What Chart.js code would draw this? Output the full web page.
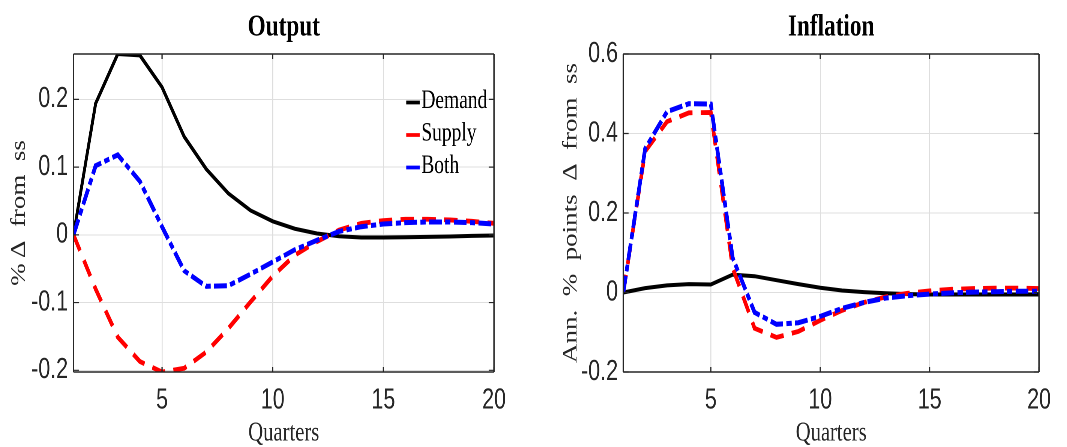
<!DOCTYPE html>
<html><head><meta charset="utf-8">
<script src="https://cdn.jsdelivr.net/npm/chart.js@4.4.0/dist/chart.umd.min.js"></script>
<style>
html,body{margin:0;padding:0;background:#fff;overflow:hidden}
#wrap{position:relative;width:1067px;height:447px;background:#fff}
.panel{position:absolute;top:0;height:447px;transform-origin:0 0;transform:scaleX(0.75)}
</style></head><body>
<div id="wrap">
<div class="panel" style="left:0;width:711px"><canvas id="c1" width="711" height="447"></canvas></div>
<div class="panel" style="left:533px;width:712px"><canvas id="c2" width="712" height="447"></canvas></div>
</div>
<script>
// ---------------- data ----------------
const quarters = [1,2,3,4,5,6,7,8,9,10,11,12,13,14,15,16,17,18,19,20];
const seriesNames = ['Demand','Supply','Both'];

const outputDemand = [0, 0.194, 0.267, 0.265, 0.218, 0.145, 0.097, 0.061, 0.036, 0.020, 0.009, 0.002, -0.002, -0.004, -0.004, -0.0035, -0.003, -0.0025, -0.0015, -0.001];
const outputSupply = [0, -0.080, -0.151, -0.187, -0.2025, -0.197, -0.173, -0.138, -0.099, -0.061, -0.030, -0.010, 0.007, 0.017, 0.021, 0.023, 0.023, 0.022, 0.020, 0.017];
const outputBoth   = [0, 0.102, 0.118, 0.079, 0.012, -0.053, -0.076, -0.075, -0.058, -0.040, -0.022, -0.008, 0.005, 0.012, 0.016, 0.018, 0.019, 0.019, 0.018, 0.016];

const inflationDemand = [0, 0.011, 0.018, 0.021, 0.020, 0.045, 0.041, 0.031, 0.021, 0.012, 0.005, 0.001, -0.002, -0.004, -0.005, -0.005, -0.005, -0.005, -0.005, -0.005];
const inflationSupply = [0, 0.355, 0.430, 0.452, 0.453, 0.062, -0.090, -0.113, -0.098, -0.070, -0.045, -0.025, -0.011, -0.002, 0.004, 0.008, 0.010, 0.011, 0.011, 0.010];
const inflationBoth   = [0, 0.362, 0.455, 0.475, 0.474, 0.087, -0.050, -0.080, -0.076, -0.060, -0.040, -0.025, -0.014, -0.008, -0.004, -0.001, 0.001, 0.002, 0.003, 0.003];

const xTicks = [5, 10, 15, 20];
const xTickLabels = ['5', '10', '15', '20'];
const outputYTicks = [-0.2, -0.1, 0, 0.1, 0.2];
const outputYTickLabels = ['-0.2', '-0.1', '0', '0.1', '0.2'];
const inflationYTicks = [-0.2, 0, 0.2, 0.4, 0.6];
const inflationYTickLabels = ['-0.2', '0', '0.2', '0.4', '0.6'];

// ---------------- styles ----------------
const lineStyles = [
  {color:'#000000', width:4, dash:[]},
  {color:'#ff0000', width:4.8, dash:[18, 11]},
  {color:'#0000ff', width:5, dash:[17, 4.5, 7, 4.5]}
];
const TICK_COLOR = '#262626';

const framePlugin = {
  id: 'frame',
  afterDatasetsDraw(chart) {
    const {ctx, chartArea: a, scales} = chart;
    ctx.save();
    ctx.strokeStyle = TICK_COLOR;
    ctx.lineWidth = 1.4;
    ctx.beginPath();
    ctx.moveTo(a.left, a.top); ctx.lineTo(a.right, a.top);
    ctx.moveTo(a.left, a.bottom); ctx.lineTo(a.right, a.bottom);
    ctx.stroke();
    ctx.lineWidth = 1.9;
    ctx.beginPath();
    ctx.moveTo(a.left, a.top); ctx.lineTo(a.left, a.bottom);
    ctx.moveTo(a.right, a.top); ctx.lineTo(a.right, a.bottom);
    ctx.stroke();
    ctx.lineWidth = 1.6;
    ctx.beginPath();
    scales.x.ticks.forEach(t => {
      const x = scales.x.getPixelForValue(t.value);
      ctx.moveTo(x, a.bottom); ctx.lineTo(x, a.bottom - 5);
      ctx.moveTo(x, a.top); ctx.lineTo(x, a.top + 5);
    });
    ctx.stroke();
    ctx.lineWidth = 1.2;
    ctx.beginPath();
    scales.y.ticks.forEach(t => {
      const y = scales.y.getPixelForValue(t.value);
      ctx.moveTo(a.left, y); ctx.lineTo(a.left + 7, y);
      ctx.moveTo(a.right, y); ctx.lineTo(a.right - 7, y);
    });
    ctx.stroke();
    ctx.restore();
  }
};

const legendPlugin = {
  id: 'ieLegend',
  afterDraw(chart, args, opts) {
    if (!opts.show) return;
    const {ctx, chartArea: a} = chart;
    const rows = [47, 79.5, 112];
    ctx.save();
    ctx.font = '26px "Liberation Serif"';
    ctx.textBaseline = 'middle';
    ctx.textAlign = 'left';
    chart.data.datasets.forEach((ds, i) => {
      const y = a.top + rows[i];
      ctx.strokeStyle = ds.borderColor;
      ctx.lineWidth = 3.8;
      ctx.setLineDash([]);
      ctx.beginPath();
      ctx.moveTo(a.right - 117, y + 1.5);
      ctx.lineTo(a.right - 99, y + 1.5);
      ctx.stroke();
      ctx.fillStyle = '#000';
      ctx.fillText(ds.label, a.right - 97, y);
    });
    ctx.restore();
  }
};

function makeChart(id, cfg) {
  const datasets = cfg.series.map((vals, i) => ({
    label: seriesNames[i],
    data: quarters.map((q, j) => ({x: q, y: vals[j]})),
    borderColor: lineStyles[i].color,
    backgroundColor: lineStyles[i].color,
    borderWidth: lineStyles[i].width,
    borderDash: lineStyles[i].dash,
    borderCapStyle: 'butt',
    pointRadius: 0,
    tension: 0,
    fill: false,
    order: 2 - i
  }));
  return new Chart(document.getElementById(id), {
    type: 'line',
    data: {datasets},
    options: {
      responsive: false,
      animation: false,
      devicePixelRatio: 2,
      events: [],
      layout: {padding: {left: 0, right: cfg.padRight, top: 0, bottom: 0}},
      plugins: {
        legend: {display: false},
        tooltip: {enabled: false},
        title: {
          display: true, text: cfg.title, fullSize: false, color: '#000',
          font: {family: 'Liberation Serif', size: 31, weight: 'bold', lineHeight: 1.2},
          padding: {top: 9, bottom: 7.8}
        },
        ieLegend: {show: cfg.legend}
      },
      scales: {
        x: {
          type: 'linear', min: 1, max: 20,
          afterBuildTicks: s => { s.ticks = xTicks.map(v => ({value: v})); },
          afterFit: s => { s.height = 75; s.paddingLeft = 0; s.paddingRight = 0; },
          ticks: {
            padding: 11.7, color: TICK_COLOR, maxRotation: 0, autoSkip: false,
            font: {family: 'Liberation Sans', size: 28.5},
            callback: v => { const k = xTicks.indexOf(v); return k >= 0 ? xTickLabels[k] : ''; }
          },
          grid: {color: '#dedede', lineWidth: 1.3, drawTicks: false},
          border: {display: false},
          title: {
            display: true, text: 'Quarters', color: TICK_COLOR,
            font: {family: 'Liberation Serif', size: 27.5, lineHeight: 1},
            padding: {top: 0, bottom: 0}
          }
        },
        y: {
          type: 'linear', min: cfg.yMin, max: cfg.yMax,
          afterBuildTicks: s => { s.ticks = cfg.yTicks.map(v => ({value: v})); },
          afterFit: s => { s.width = cfg.yAxisWidth; s.paddingTop = 0; s.paddingBottom = 0; },
          ticks: {
            padding: cfg.yTickPad, color: TICK_COLOR, autoSkip: false,
            font: {family: 'Liberation Sans', size: 28.5},
            callback: v => { const k = cfg.yTicks.indexOf(v); return k >= 0 ? cfg.yTickLabels[k] : ''; }
          },
          grid: {color: '#dedede', lineWidth: 1, drawTicks: false},
          border: {display: false},
          title: {
            display: true, text: cfg.yTitle, color: TICK_COLOR,
            font: {family: 'Liberation Serif', size: 27, lineHeight: 1},
            padding: {top: cfg.yTitlePad, bottom: 0}
          }
        }
      }
    },
    plugins: [framePlugin, legendPlugin]
  });
}

makeChart('c1', {
  title: 'Output',
  series: [outputDemand, outputSupply, outputBoth],
  yMin: -0.2025, yMax: 0.267,
  yTicks: outputYTicks, yTickLabels: outputYTickLabels,
  yTitle: '%\u2009\u0394\u2002from\u2002ss',
  yAxisWidth: 98, yTickPad: 7.3, yTitlePad: 12.5,
  padRight: 52.3, legend: true
});

makeChart('c2', {
  title: 'Inflation',
  series: [inflationDemand, inflationSupply, inflationBoth],
  yMin: -0.2, yMax: 0.6,
  yTicks: inflationYTicks, yTickLabels: inflationYTickLabels,
  yTitle: 'Ann.\u2002%\u2002points\u2002\u0394\u2002from\u2002ss',
  yAxisWidth: 120.4, yTickPad: 7.1, yTitlePad: 37.2,
  padRight: 37.3, legend: false
});
</script>
</body></html>
